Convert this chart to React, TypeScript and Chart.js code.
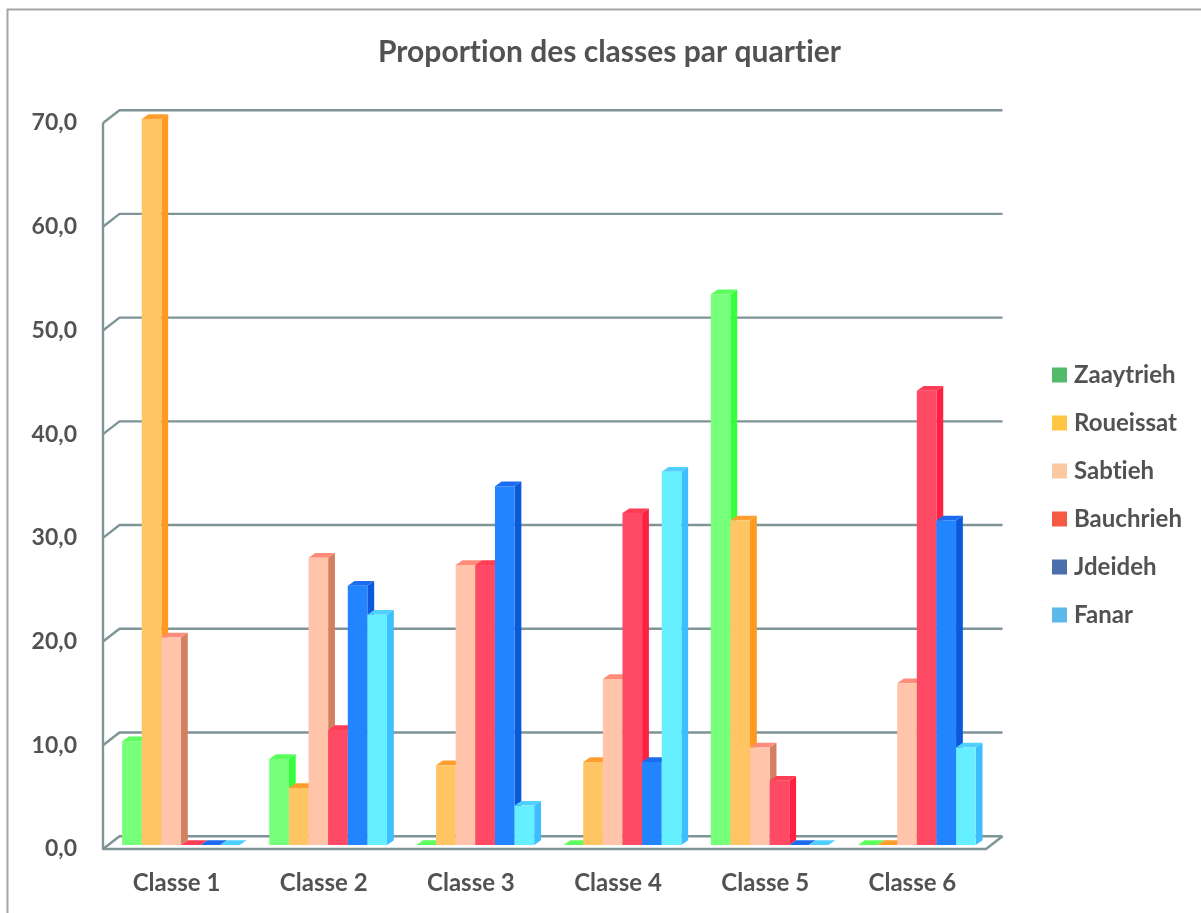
import React, { useEffect, useRef } from "react";
import { Chart, registerables } from "chart.js";

Chart.register(...registerables);

const title = "Proportion des classes par quartier";
const categories = ["Classe 1", "Classe 2", "Classe 3", "Classe 4", "Classe 5", "Classe 6"];
const seriesNames = ["Zaaytrieh", "Roueissat", "Sabtieh", "Bauchrieh", "Jdeideh", "Fanar"];
const zaaytrieh = [10.0, 8.3, 0, 0, 53.1, 0];
const roueissat = [70.0, 5.5, 7.7, 8.0, 31.3, 0];
const sabtieh = [20.0, 27.7, 27.0, 16.0, 9.4, 15.6];
const bauchrieh = [0, 11.1, 27.0, 32.0, 6.2, 43.8];
const jdeideh = [0, 25.0, 34.6, 8.0, 0, 31.3];
const fanar = [0, 22.2, 3.8, 36.0, 0, 9.4];
const seriesValues = [zaaytrieh, roueissat, sabtieh, bauchrieh, jdeideh, fanar];

const frontColors = ["#75FF7A", "#FFC565", "#FFC4A9", "#FF4A66", "#2285FF", "#66F0FF"];
const sideColors = ["#34FF3A", "#FF991F", "#D38060", "#FF2141", "#0C58DA", "#3CBEFF"];
const topColors = ["#5CFF5C", "#FF9E2E", "#FF8C7A", "#FF3D55", "#1C6BF0", "#4FD0FF"];
const legendColors = ["#52BA6A", "#FFC644", "#FBC8A0", "#F55A45", "#4A6FAB", "#5BB8E8"];

const TEXT = "#525252";
const GRID = "#7F9497";
const FONT = "Lato";
const W = 1201;
const H = 913;

// Pseudo-3D geometry
const WALL_DX = 16.5;
const WALL_DY = -12.8;
const BAR_SHIFT_X = 4.4;
const BAR_SHIFT_Y = -4;
const BAR_DX = 6.8;
const BAR_DY = -4.7;

const depthPlugin = {
  id: "depth",
  beforeDraw(chart: any) {
    const { ctx } = chart;
    ctx.letterSpacing = "0.01px";
    ctx.save();
    ctx.fillStyle = "#fff";
    ctx.fillRect(0, 0, W, H);
    ctx.strokeStyle = "#A6A6A6";
    ctx.lineWidth = 2;
    ctx.beginPath();
    ctx.moveTo(W, 9.5);
    ctx.lineTo(7.5, 9.5);
    ctx.lineTo(7.5, H);
    ctx.stroke();
    ctx.restore();
  },
  afterLayout(chart: any) {
    const legend = chart.legend;
    const pad = legend.options.labels.padding;
    const h = legend.legendHitBoxes[0].height;
    legend.left = 1052 - pad;
    legend.right = W;
    legend.top = 375 - h / 2 - pad;
    legend.bottom = legend.top + 400;
    const t = chart.titleBlock;
    t.left = 18;
    t.right = W;
  },
  beforeDatasetsDraw(chart: any) {
    const { ctx, chartArea, scales } = chart;
    const y = scales.y;
    const x0 = chartArea.left;
    const x1 = chartArea.right;
    ctx.save();
    ctx.strokeStyle = GRID;
    ctx.lineWidth = 2.4;
    ctx.lineJoin = "round";
    y.ticks.forEach((t: any) => {
      const py = y.getPixelForValue(t.value);
      ctx.beginPath();
      ctx.moveTo(x0, py);
      ctx.lineTo(x0 + WALL_DX, py + WALL_DY);
      ctx.lineTo(x1 + WALL_DX, py + WALL_DY);
      ctx.stroke();
    });
    const bottom = y.getPixelForValue(0);
    const top = y.getPixelForValue(70);
    ctx.beginPath();
    ctx.moveTo(x0, top);
    ctx.lineTo(x0, bottom);
    ctx.lineTo(x1, bottom);
    ctx.lineTo(x1 + WALL_DX, bottom + WALL_DY);
    ctx.stroke();
    ctx.restore();

    // Draw the series left to right, so each bar covers its neighbour's side face.
    seriesNames.forEach((_, i) => {
      const meta = chart.getDatasetMeta(i);
      ctx.save();
      ctx.translate(BAR_SHIFT_X, BAR_SHIFT_Y);
      meta.data.forEach((bar: any) => {
        const half = bar.width / 2;
        const l = bar.x - half;
        const r = bar.x + half;
        const t = bar.y;
        const b = bar.base;
        ctx.fillStyle = sideColors[i];
        ctx.beginPath();
        ctx.moveTo(r, t);
        ctx.lineTo(r + BAR_DX, t + BAR_DY);
        ctx.lineTo(r + BAR_DX, b + BAR_DY);
        ctx.lineTo(r, b);
        ctx.closePath();
        ctx.fill();
        ctx.fillStyle = topColors[i];
        ctx.beginPath();
        ctx.moveTo(l, t);
        ctx.lineTo(l + BAR_DX, t + BAR_DY);
        ctx.lineTo(r + BAR_DX, t + BAR_DY);
        ctx.lineTo(r, t);
        ctx.closePath();
        ctx.fill();
      });
      meta.controller.draw();
      ctx.restore();
    });
    return false;
  },
  afterDraw(chart: any) {
    const { ctx, legend } = chart;
    ctx.save();
    legend.legendHitBoxes.forEach((hit: any, i: number) => {
      ctx.fillStyle = legendColors[i];
      ctx.fillRect(hit.left, hit.top + hit.height / 2 - 7.5, 15, 15);
    });
    ctx.restore();
  },
};

export default function App() {
  const ref = useRef<HTMLCanvasElement | null>(null);

  useEffect(() => {
    const chart = new Chart(ref.current as HTMLCanvasElement, {
      type: "bar",
      data: {
        labels: categories,
        datasets: seriesNames.map((name, i) => ({
          label: name,
          data: seriesValues[i],
          backgroundColor: frontColors[i],
          borderWidth: 0,
          categoryPercentage: 0.8,
          barPercentage: 1,
        })),
      },
      options: {
        responsive: false,
        animation: false,
        layout: { padding: { left: 0, right: 215, top: 0, bottom: 0 } },
        plugins: {
          tooltip: { enabled: false },
          title: {
            display: true,
            text: title,
            color: TEXT,
            font: { family: FONT, size: 30, weight: "bold" },
            padding: { top: 34, bottom: 53 },
          },
          legend: {
            position: "chartArea",
            align: "start",
            labels: {
              boxWidth: 10,
              boxHeight: 15,
              padding: 24,
              color: TEXT,
              font: { family: FONT, size: 24, weight: "bold" },
              generateLabels: () =>
                seriesNames.map((name, i) => ({
                  text: name,
                  fillStyle: "rgba(0,0,0,0)",
                  strokeStyle: "rgba(0,0,0,0)",
                  fontColor: TEXT,
                  lineWidth: 0,
                  datasetIndex: i,
                })),
            },
          },
        },
        scales: {
          x: {
            grid: { display: false },
            border: { display: false },
            ticks: {
              color: TEXT,
              padding: 12,
              font: { family: FONT, size: 24, weight: "bold" },
            },
            afterFit: (s: any) => {
              s.height = 64;
            },
          },
          y: {
            min: 0,
            max: 70,
            grid: { display: false },
            border: { display: false },
            ticks: {
              stepSize: 10,
              color: TEXT,
              padding: 18,
              font: { family: FONT, size: 23, weight: "bold" },
              callback: (v: any) => Number(v).toFixed(1).replace(".", ","),
            },
            afterFit: (s: any) => {
              s.width = 103;
            },
          },
        },
      },
      plugins: [depthPlugin],
    } as any);
    return () => chart.destroy();
  }, []);

  return (
    <canvas
      ref={ref}
      width={W}
      height={H}
      style={{ position: "absolute", left: 0, top: 0, display: "block" }}
    />
  );
}
